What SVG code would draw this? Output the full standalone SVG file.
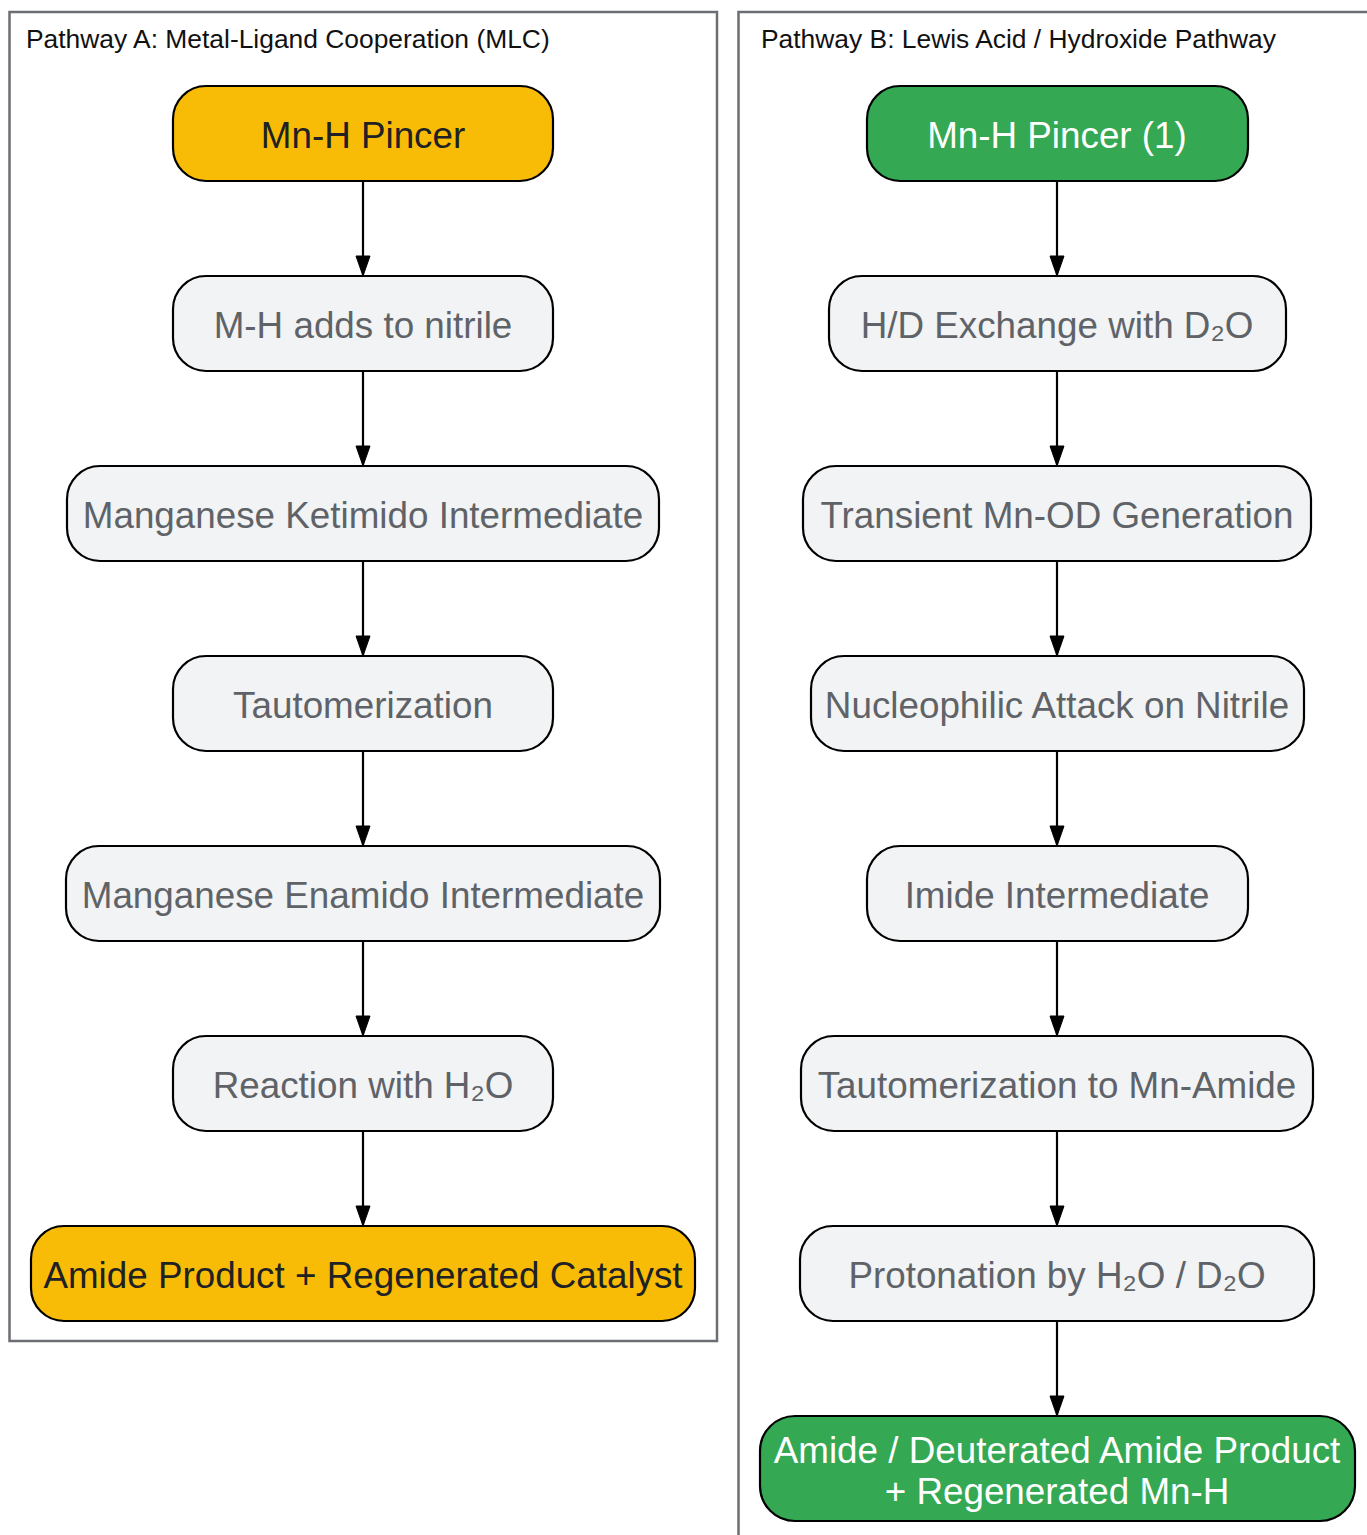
<svg xmlns="http://www.w3.org/2000/svg" width="1367" height="1535" viewBox="0 0 1367 1535">
<defs>
<marker id="ah" markerUnits="userSpaceOnUse" markerWidth="22" markerHeight="16" viewBox="0 0 22 16" refX="21" refY="8" orient="auto">
<path d="M1,1 L21,8 L1,15 Z" fill="#000" stroke="#000" stroke-width="1"/>
</marker>
</defs>
<style>
.cl{fill:#fff;stroke:#6b6e72;stroke-width:2.5}
.ct{font-family:"Liberation Sans",Arial,sans-serif;font-size:26.4px;fill:#111}
.n rect{stroke:#000;stroke-width:2.2}
.g rect{fill:#f1f3f4}
.y rect{fill:#f9bc06}
.gr rect{fill:#34a853}
.n text{font-family:"Liberation Sans",Arial,sans-serif;font-size:36.8px;text-anchor:middle}
.g text{fill:#5f6368}
.y text{fill:#202124}
.gr text{fill:#fff}
.e{stroke:#000;stroke-width:2.2;fill:none;marker-end:url(#ah)}
</style>
<rect width="1367" height="1535" fill="#fff"/>
<g id="clusterA">
<rect class="cl" x="9.5" y="12" width="707.5" height="1329"/>
<text class="ct" x="26" y="48">Pathway A: Metal-Ligand Cooperation (MLC)</text>
</g>
<g id="clusterB">
<rect class="cl" x="738.5" y="12" width="700" height="1600"/>
<text class="ct" x="761" y="48">Pathway B: Lewis Acid / Hydroxide Pathway</text>
</g>
<g id="edges">
<path class="e" d="M363,181 V276"/>
<path class="e" d="M363,371 V466"/>
<path class="e" d="M363,561 V656"/>
<path class="e" d="M363,751 V846"/>
<path class="e" d="M363,941 V1036"/>
<path class="e" d="M363,1131 V1226"/>
<path class="e" d="M1057,181 V276"/>
<path class="e" d="M1057,371 V466"/>
<path class="e" d="M1057,561 V656"/>
<path class="e" d="M1057,751 V846"/>
<path class="e" d="M1057,941 V1036"/>
<path class="e" d="M1057,1131 V1226"/>
<path class="e" d="M1057,1321 V1416"/>
</g>
<g id="A1" class="n y"><rect x="173" y="86" width="380" height="95" rx="33"/><text x="363" y="148">Mn-H Pincer</text></g>
<g id="A2" class="n g"><rect x="173" y="276" width="380" height="95" rx="33"/><text x="363" y="338">M-H adds to nitrile</text></g>
<g id="A3" class="n g"><rect x="67" y="466" width="592" height="95" rx="33"/><text x="363" y="528">Manganese Ketimido Intermediate</text></g>
<g id="A4" class="n g"><rect x="173" y="656" width="380" height="95" rx="33"/><text x="363" y="718">Tautomerization</text></g>
<g id="A5" class="n g"><rect x="66" y="846" width="594" height="95" rx="33"/><text x="363" y="908">Manganese Enamido Intermediate</text></g>
<g id="A6" class="n g"><rect x="173" y="1036" width="380" height="95" rx="33"/><text x="363" y="1098">Reaction with H₂O</text></g>
<g id="A7" class="n y"><rect x="31" y="1226" width="664" height="95" rx="33"/><text x="363" y="1288">Amide Product + Regenerated Catalyst</text></g>
<g id="B1" class="n gr"><rect x="867" y="86" width="381" height="95" rx="33"/><text x="1057" y="148">Mn-H Pincer (1)</text></g>
<g id="B2" class="n g"><rect x="829" y="276" width="457" height="95" rx="33"/><text x="1057" y="338">H/D Exchange with D₂O</text></g>
<g id="B3" class="n g"><rect x="803" y="466" width="508" height="95" rx="33"/><text x="1057" y="528">Transient Mn-OD Generation</text></g>
<g id="B4" class="n g"><rect x="811" y="656" width="493" height="95" rx="33"/><text x="1057" y="718">Nucleophilic Attack on Nitrile</text></g>
<g id="B5" class="n g"><rect x="867" y="846" width="381" height="95" rx="33"/><text x="1057" y="908">Imide Intermediate</text></g>
<g id="B6" class="n g"><rect x="801" y="1036" width="512" height="95" rx="33"/><text x="1057" y="1098">Tautomerization to Mn-Amide</text></g>
<g id="B7" class="n g"><rect x="800" y="1226" width="514" height="95" rx="33"/><text x="1057" y="1288">Protonation by H₂O / D₂O</text></g>
<g id="B8" class="n gr"><rect x="760" y="1416" width="595" height="105" rx="35"/><text x="1057" y="1463">Amide / Deuterated Amide Product</text><text x="1057" y="1504">+ Regenerated Mn-H</text></g>
</svg>
